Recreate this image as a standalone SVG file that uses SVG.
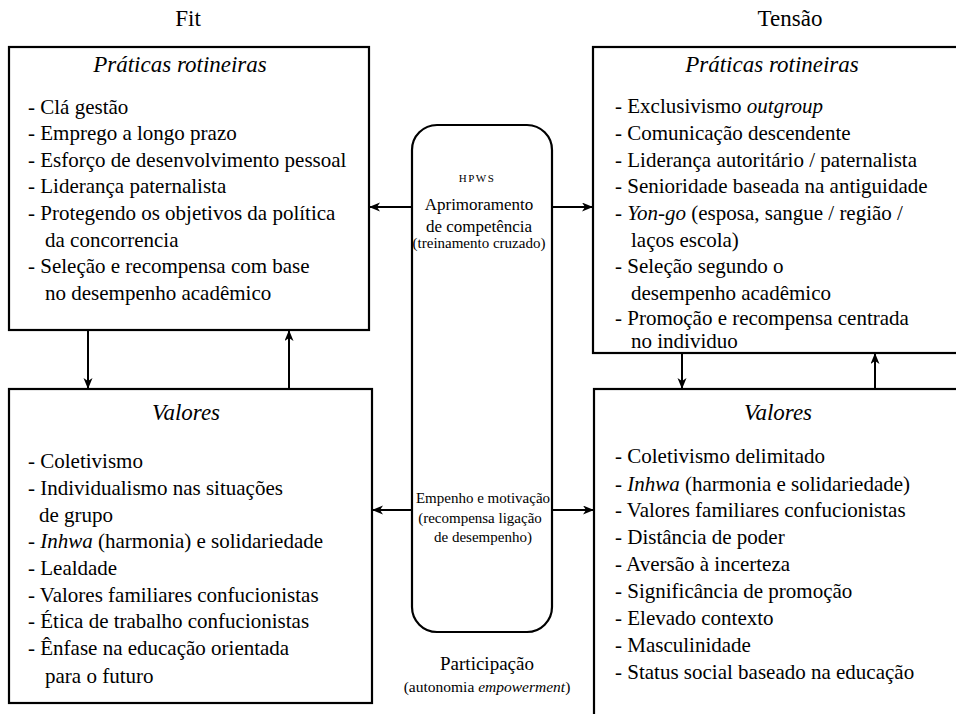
<svg xmlns="http://www.w3.org/2000/svg" width="956" height="714" viewBox="0 0 956 714" font-family="Liberation Serif, DejaVu Serif, serif">
<style>
text{font-family:'Liberation Serif','DejaVu Serif',serif;fill:#000}
.h{font-size:23px}
.t{font-size:23px;font-style:italic;text-anchor:middle}
.b{font-size:21px}
.i{font-style:italic}
.c{text-anchor:middle}
.box{fill:#fff;stroke:#000;stroke-width:2.2}
.ln{stroke:#000;stroke-width:2;fill:none}
</style>
<defs>
<marker id="ah" markerUnits="userSpaceOnUse" markerWidth="12" markerHeight="10" refX="10" refY="4.5" orient="auto">
<path d="M0,0 L11,4.5 L0,9 L3,4.5 Z" fill="#000"/>
</marker>
</defs>
<text class="h c" x="188" y="26">Fit</text>
<text class="h c" x="790" y="26">Tensão</text>
<g id="fit-praticas">
<rect class="box" x="9" y="47" width="360" height="283"/>
<text class="t" x="180" y="72">Práticas rotineiras</text>
<text class="b" x="28" y="114">- Clá gestão</text>
<text class="b" x="28" y="140">- Emprego a longo prazo</text>
<text class="b" x="28" y="167">- Esforço de desenvolvimento pessoal</text>
<text class="b" x="28" y="193">- Liderança paternalista</text>
<text class="b" x="28" y="220">- Protegendo os objetivos da política</text>
<text class="b" x="45" y="247">da concorrencia</text>
<text class="b" x="28" y="273">- Seleção e recompensa com base</text>
<text class="b" x="45" y="300">no desempenho acadêmico</text>
</g>
<g id="tensao-praticas">
<rect class="box" x="593" y="47" width="380" height="306"/>
<text class="t" x="772" y="72">Práticas rotineiras</text>
<text class="b" x="615" y="113">- Exclusivismo <tspan class="i">outgroup</tspan></text>
<text class="b" x="615" y="140">- Comunicação descendente</text>
<text class="b" x="615" y="167">- Liderança autoritário / paternalista</text>
<text class="b" x="615" y="193">- Senioridade baseada na antiguidade</text>
<text class="b" x="615" y="220">- <tspan class="i">Yon-go</tspan> (esposa, sangue / região /</text>
<text class="b" x="631" y="247">laços escola)</text>
<text class="b" x="615" y="273">- Seleção segundo o</text>
<text class="b" x="631" y="300">desempenho acadêmico</text>
<text class="b" x="615" y="325">- Promoção e recompensa centrada</text>
<text class="b" x="631" y="348">no individuo</text>
</g>
<g id="fit-valores">
<rect class="box" x="9" y="389" width="363" height="314"/>
<text class="t" x="186" y="420">Valores</text>
<text class="b" x="28" y="468">- Coletivismo</text>
<text class="b" x="28" y="495">- Individualismo nas situações</text>
<text class="b" x="39" y="522">de grupo</text>
<text class="b" x="28" y="548">- <tspan class="i">Inhwa</tspan> (harmonia) e solidariedade</text>
<text class="b" x="28" y="575">- Lealdade</text>
<text class="b" x="28" y="602">- Valores familiares confucionistas</text>
<text class="b" x="28" y="628">- Ética de trabalho confucionistas</text>
<text class="b" x="28" y="655">- Ênfase na educação orientada</text>
<text class="b" x="45" y="683">para o futuro</text>
</g>
<g id="tensao-valores">
<rect class="box" x="594" y="389" width="380" height="340"/>
<text class="t" x="778" y="420">Valores</text>
<text class="b" x="615" y="463">- Coletivismo delimitado</text>
<text class="b" x="615" y="491">- <tspan class="i">Inhwa</tspan> (harmonia e solidariedade)</text>
<text class="b" x="615" y="517">- Valores familiares confucionistas</text>
<text class="b" x="615" y="544">- Distância de poder</text>
<text class="b" x="615" y="571">- Aversão à incerteza</text>
<text class="b" x="615" y="598">- Significância de promoção</text>
<text class="b" x="615" y="625">- Elevado contexto</text>
<text class="b" x="615" y="652">- Masculinidade</text>
<text class="b" x="615" y="679">- Status social baseado na educação</text>
</g>
<g id="hpws">
<rect class="box" x="412" y="125" width="140" height="507" rx="25" ry="25"/>
<text class="c" x="477" y="182" style="font-size:11px;letter-spacing:1.5px">HPWS</text>
<text class="c" x="479" y="210" style="font-size:17px">Aprimoramento</text>
<text class="c" x="479" y="232" style="font-size:17px">de competência</text>
<text class="c" x="479" y="248" style="font-size:15px">(treinamento cruzado)</text>
<text class="c" x="483" y="503" style="font-size:15px">Empenho e motivação</text>
<text class="c" x="480" y="523" style="font-size:15px">(recompensa ligação</text>
<text class="c" x="483" y="542" style="font-size:15px">de desempenho)</text>
</g>
<g id="participacao">
<text class="c" x="487" y="670" style="font-size:19px">Participação</text>
<text class="c" x="487" y="692" style="font-size:15.5px">(autonomia <tspan class="i">empowerment</tspan>)</text>
</g>
<g id="connectors">
<line class="ln" x1="412" y1="207" x2="370" y2="207" marker-end="url(#ah)"/>
<line class="ln" x1="552" y1="207" x2="592" y2="207" marker-end="url(#ah)"/>
<line class="ln" x1="412" y1="510" x2="373" y2="510" marker-end="url(#ah)"/>
<line class="ln" x1="552" y1="510" x2="593" y2="510" marker-end="url(#ah)"/>
<line class="ln" x1="88" y1="331" x2="88" y2="388" marker-end="url(#ah)"/>
<line class="ln" x1="289" y1="388" x2="289" y2="331" marker-end="url(#ah)"/>
<line class="ln" x1="682" y1="354" x2="682" y2="388" marker-end="url(#ah)"/>
<line class="ln" x1="875" y1="388" x2="875" y2="354" marker-end="url(#ah)"/>
</g>
</svg>
